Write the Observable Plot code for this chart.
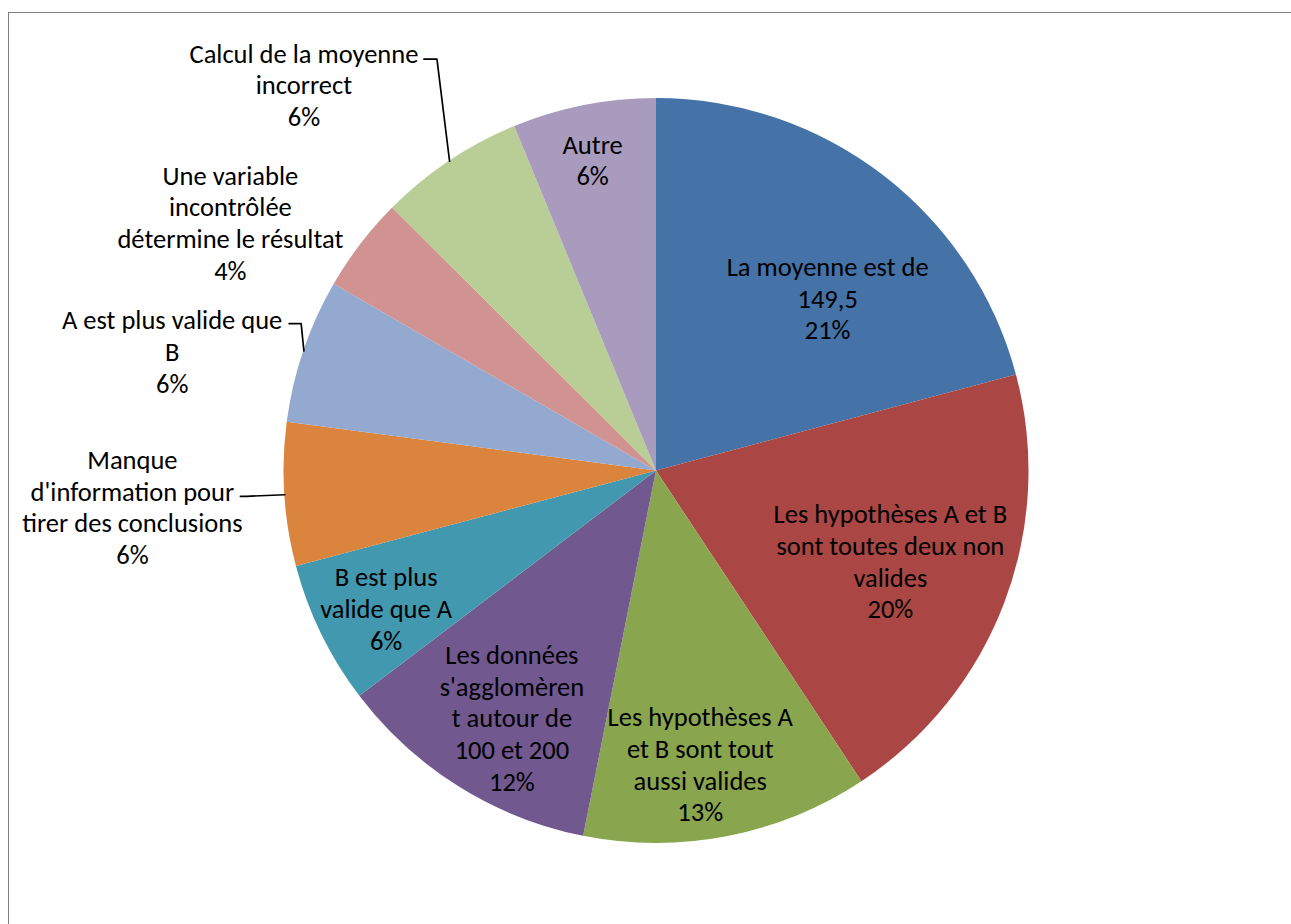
<!DOCTYPE html>
<html><head><meta charset="utf-8">
<script src="https://cdn.jsdelivr.net/npm/d3@7"></script>
<script src="https://cdn.jsdelivr.net/npm/@observablehq/plot@0.6"></script>
<style>
html,body{margin:0;padding:0;background:#fff;overflow:hidden;}
#wrap{position:relative;width:1291px;height:924px;overflow:hidden;}
#frame{position:absolute;left:8px;top:12px;width:1400px;height:1000px;border-left:1px solid #808080;border-top:1px solid #808080;}
#chart{position:absolute;left:0;top:0;}
</style></head><body>
<div id="wrap"><div id="frame"></div><div id="chart"></div></div>
<script>
// ---- data ----
const categories = [
  "La moyenne est de 149,5",
  "Les hypothèses A et B sont toutes deux non valides",
  "Les hypothèses A et B sont tout aussi valides",
  "Les données s'agglomèrent autour de 100 et 200",
  "B est plus valide que A",
  "Manque d'information pour tirer des conclusions",
  "A est plus valide que B",
  "Une variable incontrôlée détermine le résultat",
  "Calcul de la moyenne incorrect",
  "Autre"
];
const values = [20.8, 19.8, 12.4, 11.5, 6.2, 6.2, 6.25, 4.1, 6.3, 6.2];
const percentLabels = ["21%", "20%", "13%", "12%", "6%", "6%", "6%", "4%", "6%", "6%"];

// ---- layout / style ----
const colors = ["#4572A7", "#AA4643", "#89A54E", "#71588F", "#4198AF", "#DB843D", "#93A9CF", "#D19392", "#B9CD96", "#A99BBD"];
const wrappedLines = [
  ["La moyenne est de", "149,5"],
  ["Les hypothèses A et B", "sont toutes deux non", "valides"],
  ["Les hypothèses A", "et B sont tout", "aussi valides"],
  ["Les données", "s'agglomèren", "t autour de", "100 et 200"],
  ["B est plus", "valide que A"],
  ["Manque", "d'information pour", "tirer des conclusions"],
  ["A est plus valide que", "B"],
  ["Une variable", "incontrôlée", "détermine le résultat"],
  ["Calcul de la moyenne", "incorrect"],
  ["Autre"]
];
// label placement: [angle shift from slice middle (deg), distance from centre (px)]
const labelPlacement = [[7.1, 243.6], [0.2, 250.5], [2.6, 295.8], [-1.6, 285.5], [-0.8, 303],
  [-0.2, 525.3], [-4.9, 499], [-7.2, 493.5], [-8.6, 523.4], [-0.4, 318]];
// leader hooks: slice index -> [line start dx, elbow dx, dy (screen px)] relative to label centre
const leaderHooks = {5: [108, 114, -10], 6: [117, 129, -27.5], 8: [120, 133, -25]};

const R = 372.5, CX = 656, CY = 470.5, W = 1291, H = 924;
const FONT = "Carlito, Calibri, Lato, 'Open Sans', sans-serif";
const FS = 26.5;

const arcs = d3.pie().sort(null).value(d => d)(values);
const rad = Math.PI / 180;

const labels = arcs.map((a, i) => {
  const mid = (a.startAngle + a.endAngle) / 2 + labelPlacement[i][0] * rad;
  const r = labelPlacement[i][1];
  return {
    x: r * Math.sin(mid),
    y: r * Math.cos(mid),
    text: wrappedLines[i].concat([percentLabels[i]]).join("\n"),
    name: categories[i]
  };
});

const leaders = [];
for (const [k, hook] of Object.entries(leaderHooks)) {
  const i = +k, a = arcs[i];
  const mid = (a.startAngle + a.endAngle) / 2;
  const L = labels[i];
  leaders.push({id: i, x: L.x + hook[0], y: L.y - hook[2]});
  leaders.push({id: i, x: L.x + hook[1], y: L.y - hook[2]});
  leaders.push({id: i, x: R * Math.sin(mid), y: R * Math.cos(mid)});
}

function slices(index, scales) {
  const cx = scales.x(0), cy = scales.y(0), r = scales.x(R) - cx;
  const g = d3.create("svg:g").attr("transform", `translate(${cx},${cy})`);
  const arc = d3.arc().innerRadius(0).outerRadius(r);
  g.selectAll("path").data(arcs).join("path")
    .attr("d", arc)
    .attr("fill", (d, i) => colors[i]);
  return g.node();
}

const chart = Plot.plot({
  width: W, height: H,
  marginLeft: CX - R, marginRight: W - CX - R,
  marginTop: CY - R, marginBottom: H - CY - R,
  x: {domain: [-R, R], axis: null},
  y: {domain: [-R, R], axis: null},
  style: {fontFamily: FONT, background: "transparent", color: "#000"},
  marks: [
    slices,
    Plot.line(leaders, {x: "x", y: "y", z: "id", stroke: "#000", strokeWidth: 1.7}),
    Plot.text(labels, {x: "x", y: "y", text: "text", fill: "#000", fontSize: FS,
      lineHeight: 31.7 / FS, textAnchor: "middle", lineAnchor: "middle", title: "name"})
  ]
});
document.getElementById("chart").appendChild(chart);
</script>
</body></html>
